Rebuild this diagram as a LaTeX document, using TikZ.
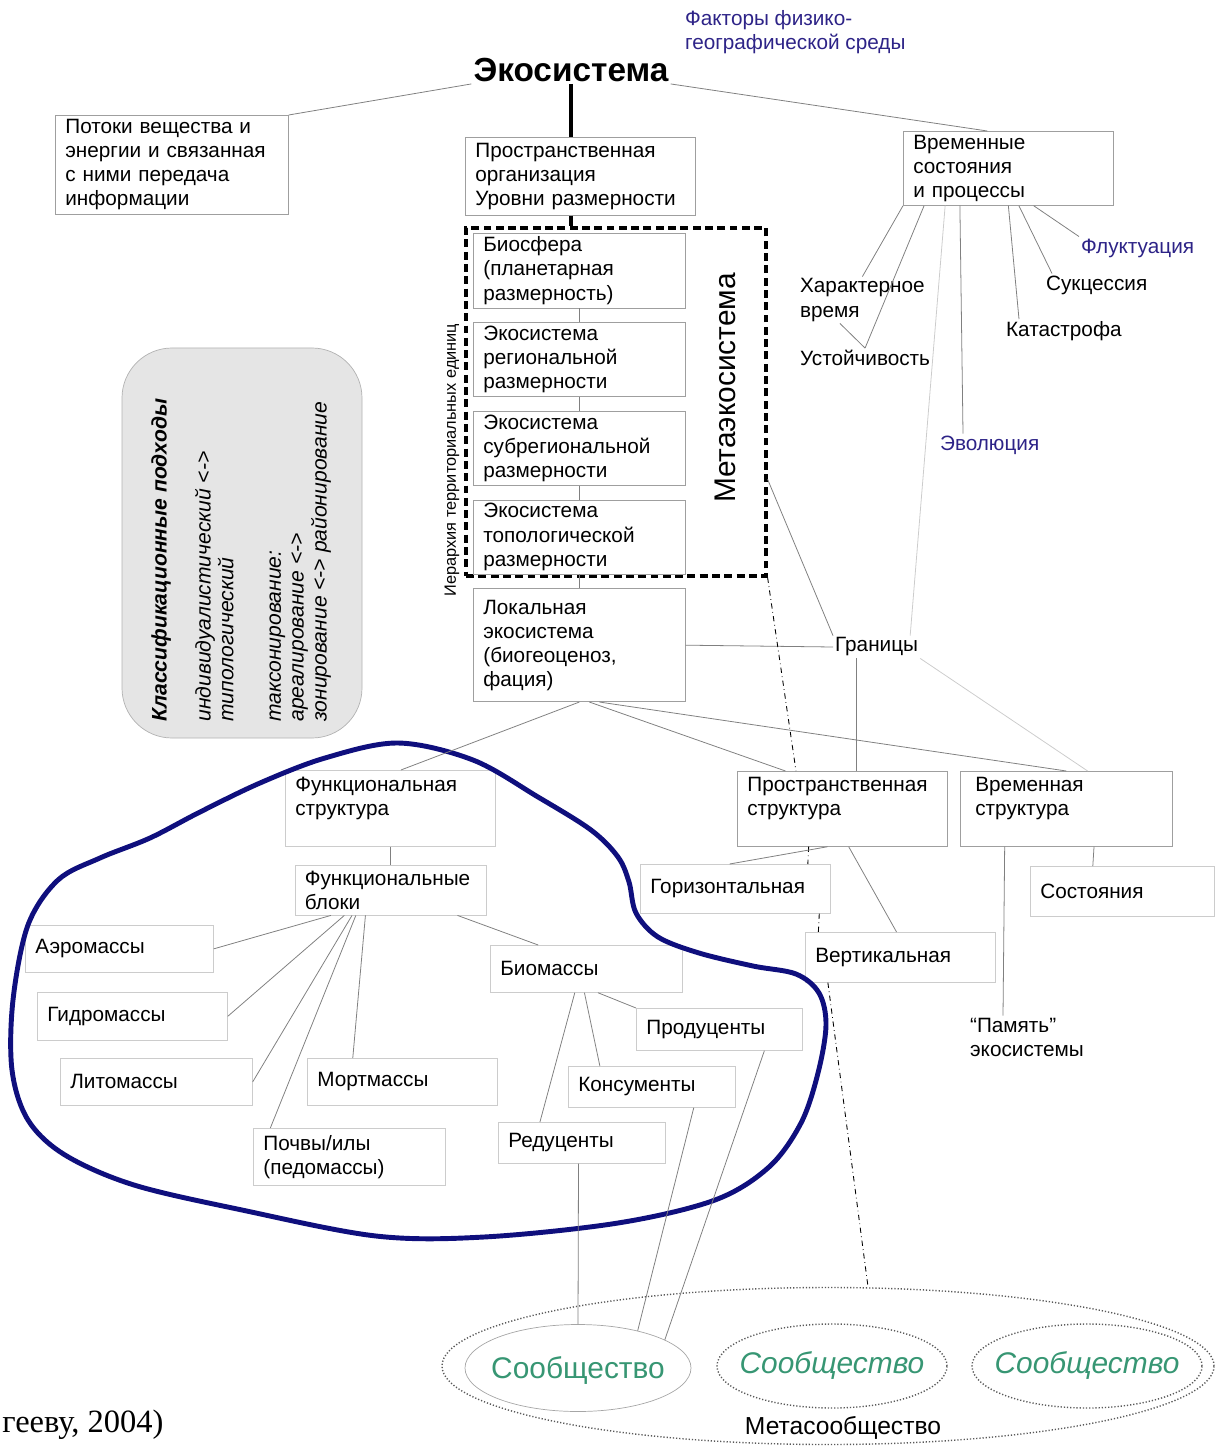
\documentclass[tikz,border=0pt]{standalone}
\usepackage{fontspec}
\setmainfont{Liberation Sans}
\newfontfamily\citefont{Liberation Serif}
\usepackage{tikz}
\usetikzlibrary{positioning,calc,shapes.geometric}
\definecolor{labelblue}{RGB}{45,35,135}
\definecolor{blobnavy}{RGB}{15,15,125}
\definecolor{commgreen}{RGB}{55,150,115}

\begin{document}
\begin{tikzpicture} [
	x=0.2mm,y=-0.2mm,
	node distance=0.28cm,
	every node/.style={font=\fontsize{11.8}{13.7}\selectfont},
	box/.style={
		rectangle,draw=gray!75,thin,
		anchor=north west,align=left,
		inner xsep=0.2cm,inner ysep=2pt},
	pale/.style={
		box,draw=gray!40},
	plain/.style={
		align=left,inner sep=1pt},
	bluetxt/.style={
		plain,text=labelblue},
	metaframe/.style={
		rectangle,draw,line width=1.8pt,
		dash pattern=on 4.5pt off 2.5pt,
		minimum width=6cm,minimum height=6.96cm,inner sep=0pt},
	graybox/.style={
		rectangle,draw=gray!60,fill=gray!20,
		rounded corners=1cm,
		minimum width=4.8cm,minimum height=7.8cm},
	ring/.style={
		ellipse,inner sep=0pt,draw=black!65,line width=0.8pt,
		dash pattern=on 0.7pt off 1.1pt},
	commlbl/.style={
		text=commgreen,font=\fontsize{17}{20}\selectfont},
	link/.style={
		draw=gray,line width=0.45pt},
	faint/.style={
		draw=gray!40,line width=0.45pt},
	spine/.style={
		line width=2.2pt},
	dashlink/.style={
		dash dot,line width=0.5pt}]
\useasboundingbox (0,0) rectangle (1215,1453);
\node [font=\bfseries\fontsize{19}{22}\selectfont,inner sep=1pt] (eco) at (571,70) {Экосистема};
\node [bluetxt,anchor=west] (factors) at (683,32) {Факторы физико-\\географической среды};
\node [box,text width=4.26cm,minimum height=1.98cm] (flows) at (55,115) {Потоки вещества и\\энергии и связанная\\с ними передача\\информации};
\node [box,text width=4.2cm,minimum height=1.56cm] (spatorg) at (465,137) {Пространственная\\организация\\Уровни размерности};
\node [box,text width=3.8cm,minimum height=1.48cm] (temporal) at (903,131) {Временные\\состояния\\и процессы};
\node [metaframe] (meta) at (616,402) {};
\node [box,text width=3.84cm,minimum height=1.48cm] (bio) at (473,233) {Биосфера\\(планетарная\\размерность)};
\node [box,text width=3.84cm,minimum height=1.48cm] (reg) [below=of bio] {Экосистема\\региональной\\размерности};
\node [box,text width=3.84cm,minimum height=1.48cm] (subreg) [below=of reg] {Экосистема\\субрегиональной\\размерности};
\node [box,text width=3.84cm,minimum height=1.48cm] (topo) [below=of subreg] {Экосистема\\топологической\\размерности};
\node [box,text width=3.84cm,minimum height=2.26cm] (local) [below=of topo] {Локальная\\экосистема\\(биогеоценоз,\\фация)};
\node [rotate=90,font=\fontsize{17}{20}\selectfont] (metaname) at (725,388) {Метаэкосистема};
\node [rotate=90,font=\fontsize{9.3}{11}\selectfont] (hier) at (452,460) {Иерархия территориальных единиц};
\node [plain,anchor=west] (chartime) at (798,300) {Характерное\\время};
\node [plain,anchor=west] (stab) at (798,358) {Устойчивость};
\node [plain,anchor=west] (succ) at (1044,285) {Сукцессия};
\node [plain,anchor=west] (catas) at (1004,331) {Катастрофа};
\node [bluetxt,anchor=west] (fluct) at (1079,248) {Флуктуация};
\node [bluetxt,anchor=west] (evol) at (938,445) {Эволюция};
\node [plain,anchor=west] (bounds) at (833,647) {Границы};
\node [graybox] (classbox) at (242,543) {};
\node [rotate=90,anchor=north west,align=left,inner sep=0pt,font=\fontsize{12}{13}\selectfont\itshape] (classtxt) at (151,722) {\textbf{Классификационные подходы}\\[12pt]индивидуалистический <->\\типологический\\[14pt]таксонирование:\\ареалирование <->\\зонирование <-> районирование};
\node [box,text width=3.8cm,minimum height=1.5cm] (spatstr) at (737,771) {Пространственная\\структура\\\mbox{}};
\node [box,text width=3.64cm,minimum height=1.5cm,inner xsep=0.3cm] (tempstr) at (960,771) {Временная\\структура\\\mbox{}};
\node [pale,text width=3.4cm,minimum height=0.98cm] (horiz) at (640,864) {Горизонтальная};
\node [pale,text width=3.4cm,minimum height=1cm] (vert) at (805,932) {Вертикальная};
\node [pale,text width=3.28cm,minimum height=1cm] (states) at (1030,866) {Состояния};
\node [plain,anchor=west] (memory) at (968,1037) {“Память”\\экосистемы};
\node [pale,text width=3.8cm,minimum height=1.52cm] (funcstr) at (285,770) {Функциональная\\структура\\\mbox{}};
\node [pale,text width=3.42cm,minimum height=1cm] (funcblk) [below=0.36cm of funcstr] {Функциональные\\блоки};
\node [pale,text width=3.36cm,minimum height=0.94cm] (aero) at (25,925) {Аэромассы};
\node [pale,text width=3.4cm,minimum height=0.96cm] (hydro) at (37,992) {Гидромассы};
\node [pale,text width=3.44cm,minimum height=0.94cm] (litho) at (60,1058) {Литомассы};
\node [pale,text width=3.4cm,minimum height=0.94cm] (mort) at (307,1058) {Мортмассы};
\node [pale,text width=3.44cm,minimum height=1.14cm] (soil) at (253,1128) {Почвы/илы\\(педомассы)};
\node [pale,text width=3.44cm,minimum height=0.94cm] (biom) at (490,945) {Биомассы};
\node [pale,text width=2.92cm,minimum height=0.84cm] (prod) at (636,1008) {Продуценты};
\node [pale,text width=2.94cm,minimum height=0.82cm] (cons) at (568,1066) {Консументы};
\node [pale,text width=2.94cm,minimum height=0.82cm] (redu) at (498,1122) {Редуценты};
\node [ring,minimum width=15.44cm,minimum height=3.14cm] (metac) at (828,1366) {};
\node [ellipse,inner sep=0pt,draw=gray!70,minimum width=4.52cm,minimum height=1.74cm] (comm1) at (578,1368) {};
\node [ring,minimum width=4.6cm,minimum height=1.68cm] (comm2) at (832,1366) {};
\node [ring,minimum width=4.6cm,minimum height=1.68cm] (comm3) at (1087,1366) {};
\node [commlbl] (comm1txt) at ([yshift=-0.06cm]comm1) {Сообщество};
\node [commlbl,font=\fontsize{17}{20}\selectfont\itshape] (comm2txt) at (comm2) {Сообщество};
\node [commlbl,font=\fontsize{17}{20}\selectfont\itshape] (comm3txt) at (comm3) {Сообщество};
\node [font=\fontsize{14}{16}\selectfont] (metalbl) at (843,1428) {Метасообщество};
\node [font=\citefont\fontsize{18.5}{20}\selectfont,anchor=base west,inner sep=0pt] (cite) at (2,1432) {гееву, 2004)};
\draw [blobnavy,line width=2.8pt] plot [smooth cycle,tension=0.55] coordinates {(398,743) (473,760) (538,797) (591,830) (618,857) (629,882) (636,913) (658,937) (699,953) (753,966) (796,974) (819,993) (826,1025) (818,1073) (801,1123) (769,1167) (715,1200) (618,1223) (484,1237) (376,1236) (242,1210) (134,1185) (65,1155) (28,1120) (12,1070) (13,1000) (28,925) (58,880) (100,858) (150,838) (200,812) (260,783) (325,758)};
\draw [spine] (eco.south) -- (eco.south |- spatorg.north);
\draw [spine] (eco.south |- spatorg.south) -- (eco.south |- meta.north);
\draw [link] (eco.south west) -- (flows.north east);
\draw [link] (eco.south east) -- ($(temporal.north west)!.4!(temporal.north east)$);
\draw [link] (temporal.south west) -- (chartime.north);
\draw [link] ($(temporal.south west)!.1!(temporal.south east)$) -- (stab.north);
\draw [link] (stab.north) -- ([xshift=-0.45cm]chartime.south);
\draw [faint] ($(temporal.south west)!.2!(temporal.south east)$) -- ([xshift=-0.2cm]bounds.north east);
\draw [link] ($(temporal.south west)!.27!(temporal.south east)$) -- ([xshift=0.5cm]evol.north west);
\draw [link] ($(temporal.south west)!.5!(temporal.south east)$) -- ([xshift=0.3cm]catas.north west);
\draw [link] ($(temporal.south west)!.55!(temporal.south east)$) -- ([xshift=0.16cm]succ.north west);
\draw [link] ($(temporal.south west)!.62!(temporal.south east)$) -- (fluct.north west);
\draw [link] (bio) -- (reg);
\draw [link] (reg) -- (subreg);
\draw [link] (subreg) -- (topo);
\draw [link] (topo) -- (local);
\draw [link] ($(meta.north east)!.72!(meta.south east)$) -- (bounds.north west);
\draw [link] (local.east) -- (bounds.west);
\draw [link] (local.south) -- ($(funcstr.north west)!.55!(funcstr.north east)$);
\draw [link] ([xshift=0.2cm]local.south) -- ($(spatstr.north west)!.23!(spatstr.north east)$);
\draw [link] ([xshift=0.4cm]local.south) -- ($(tempstr.north west)!.5!(tempstr.north east)$);
\draw [link] ([xshift=-0.4cm]bounds.south) -- ([xshift=-0.4cm]bounds.south |- spatstr.north);
\draw [faint] (bounds.south east) -- ($(tempstr.north west)!.6!(tempstr.north east)$);
\draw [dashlink] (meta.south east) -- ($(spatstr.north west)!.28!(spatstr.north east)$);
\draw [dashlink] ($(spatstr.south west)!.34!(spatstr.south east)$) -- ($(horiz.north west)!.88!(horiz.north east)$);
\draw [dashlink] ($(horiz.south west)!.94!(horiz.south east)$) -- ($(vert.north west)!.07!(vert.north east)$);
\draw [dashlink] ($(vert.south west)!.12!(vert.south east)$) -- ([xshift=0.8cm]metac.north);
\draw [link] ($(spatstr.south west)!.43!(spatstr.south east)$) -- ($(horiz.north west)!.47!(horiz.north east)$);
\draw [link] ($(spatstr.south west)!.53!(spatstr.south east)$) -- ($(vert.north west)!.48!(vert.north east)$);
\draw [link] ($(tempstr.south west)!.63!(tempstr.south east)$) -- ($(states.north west)!.34!(states.north east)$);
\draw [link] ($(tempstr.south west)!.21!(tempstr.south east)$) -- ([xshift=0.7cm]memory.north west);
\draw [link] (funcstr) -- (funcblk);
\draw [link] ($(funcblk.south west)!.19!(funcblk.south east)$) -- (aero.east);
\draw [link] ($(funcblk.south west)!.26!(funcblk.south east)$) -- (hydro.east);
\draw [link] ($(funcblk.south west)!.3!(funcblk.south east)$) -- (litho.east);
\draw [link] ($(funcblk.south west)!.32!(funcblk.south east)$) -- ($(soil.north west)!.09!(soil.north east)$);
\draw [link] ($(funcblk.south west)!.37!(funcblk.south east)$) -- ($(mort.north west)!.24!(mort.north east)$);
\draw [link] ($(funcblk.south west)!.85!(funcblk.south east)$) -- ($(biom.north west)!.25!(biom.north east)$);
\draw [link] ($(biom.south west)!.44!(biom.south east)$) -- ($(redu.north west)!.25!(redu.north east)$);
\draw [link] ($(biom.south west)!.49!(biom.south east)$) -- ($(cons.north west)!.19!(cons.north east)$);
\draw [link] ($(biom.south west)!.56!(biom.south east)$) -- (prod.north west);
\draw [link] ($(redu.south west)!.48!(redu.south east)$) -- (comm1.north);
\draw [link] ($(cons.south west)!.75!(cons.south east)$) -- (comm1.32);
\draw [link] ($(prod.south west)!.77!(prod.south east)$) -- (comm1.18);
\end{tikzpicture}
\end{document}
